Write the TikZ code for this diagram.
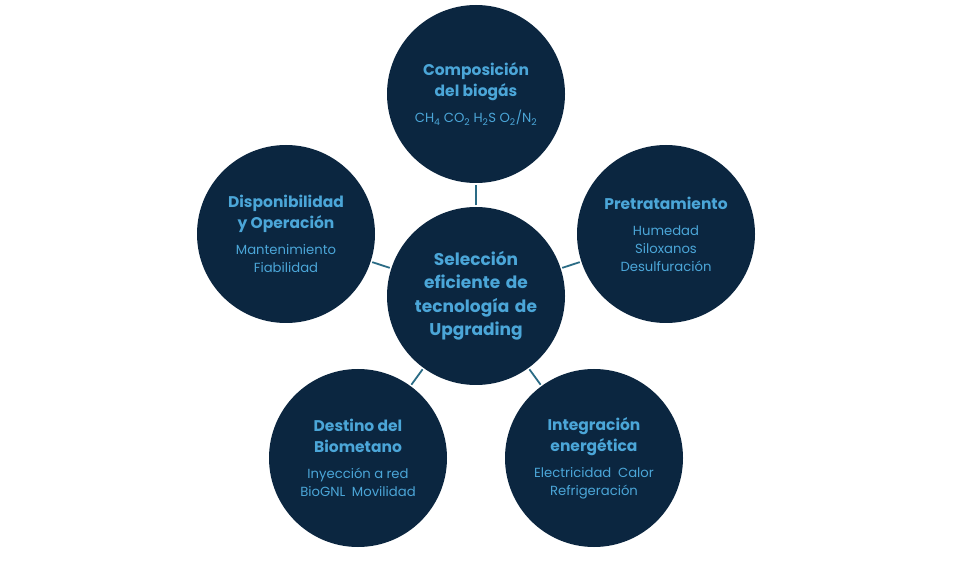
\documentclass[tikz,border=0pt]{standalone}
\usepackage{fontspec}
\setmainfont{Poppins}
\usepackage{tikz}
\definecolor{navy}{HTML}{0B2640}
\definecolor{sky}{HTML}{4BA6D8}
\definecolor{linkcolor}{HTML}{2A6B85}
\newcommand{\bubbletitle}[1]{{\fontsize{15.5}{21}\selectfont\bfseries #1\par}\vspace{8pt}}
\newcommand{\bubbleitems}[1]{{\fontsize{13.2}{18}\selectfont #1\par}}

\begin{document}
\begin{tikzpicture}[x=1pt,y=1pt,
  bubble/.style={circle,fill=navy,minimum size=178pt,inner sep=0pt,
    text width=150pt,align=center,text=sky},
  hub/.style={bubble,text width=130pt,font=\fontsize{17}{23.5}\selectfont\bfseries},
  link/.style={draw=linkcolor,line width=1.8pt,shorten <=1.5pt,shorten >=1.5pt}]
  \useasboundingbox (0,0) rectangle (980,560);
  % hub and the five topics round it
  \node[hub] (hub) at (476,264) {Selección\\eficiente de\\tecnología de\\Upgrading};
  \node[bubble] (comp) at (476,466)
    {\bubbletitle{Composición\\del biogás}\bubbleitems{CH\textsubscript{4} CO\textsubscript{2} H\textsubscript{2}S O\textsubscript{2}/N\textsubscript{2}}};
  \node[bubble] (pre) at (666,326)
    {\bubbletitle{Pretratamiento}\bubbleitems{Humedad\\Siloxanos\\Desulfuración}};
  \node[bubble] (integ) at (594,102)
    {\bubbletitle{Integración\\energética}\bubbleitems{Electricidad\ \ Calor\\Refrigeración}};
  \node[bubble] (dest) at (358,102)
    {\bubbletitle{Destino del\\Biometano}\bubbleitems{Inyección a red\\BioGNL\ \ Movilidad}};
  \node[bubble] (disp) at (286,326)
    {\bubbletitle{Disponibilidad\\y Operación}\bubbleitems{Mantenimiento\\Fiabilidad}};
  % links
  \foreach \t in {comp,pre,integ,dest,disp}
    \draw[link] (hub) -- (\t);
\end{tikzpicture}
\end{document}
